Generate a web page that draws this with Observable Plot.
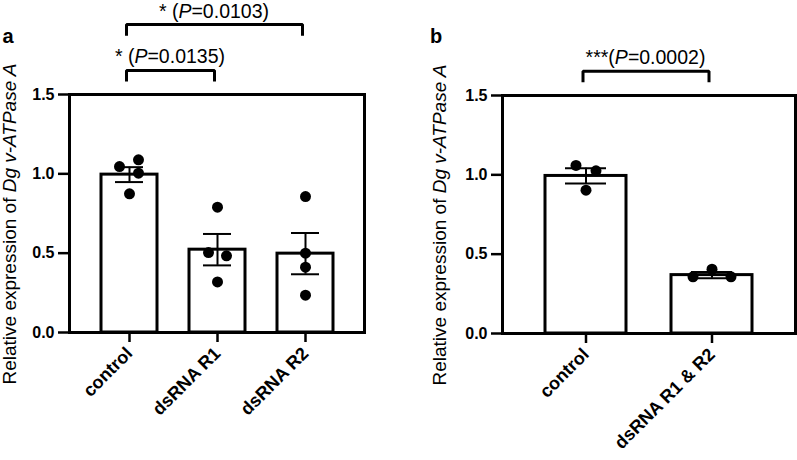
<!DOCTYPE html>
<html><head><meta charset="utf-8">
<script src="https://cdn.jsdelivr.net/npm/d3@7"></script>
<script src="https://cdn.jsdelivr.net/npm/@observablehq/plot@0.6"></script>
<style>
body{margin:0;background:#fff;font-family:"Liberation Sans",Arial,sans-serif;}
#wrap{position:relative;width:797px;height:460px;overflow:hidden;}
#wrap svg{position:absolute;top:0;}
</style></head><body><div id="wrap"></div>
<script>
// ---- Panel a data ----
const groupsA = ["control", "dsRNA R1", "dsRNA R2"];
const meansA = [0.995, 0.522, 0.497];
const semsA = [0.047, 0.099, 0.130];
const valuesA = [[1.046, 1.088, 1.004, 0.874], [0.790, 0.504, 0.483, 0.319], [0.857, 0.500, 0.412, 0.235]];
const jitterA = [[-10, 9, 9, 0], [0, -9, 9, 0], [0, 0, 0, 0]];
const bracketsA = [
  {from: "control", to: "dsRNA R1", low: 1.582, high: 1.651, textY: 1.695, stars: "* ", p: "0.0135"},
  {from: "control", to: "dsRNA R2", low: 1.871, high: 1.941, textY: 1.978, stars: "* ", p: "0.0103"}
];
// ---- Panel b data ----
const groupsB = ["control", "dsRNA R1 & R2"];
const meansB = [0.993, 0.368];
const semsB = [0.048, 0.020];
const valuesB = [[1.059, 1.025, 0.903], [0.357, 0.405, 0.357]];
const jitterB = [[-10, 10, 0], [-19, 0, 19]];
const bracketsB = [
  {from: "control", to: "dsRNA R1 & R2", low: 1.583, high: 1.653, textY: 1.695, stars: "***", p: "0.0002"}
];
const yTicks = [0, 0.5, 1.0, 1.5];
const FONT = "'Liberation Sans', Arial, sans-serif";

function panel(o) {
  const bars = o.groups.map((g, i) => ({g, mean: o.means[i], sem: o.sems[i]}));
  const pts = o.groups.flatMap((g, i) => o.values[i].map((v, j) => ({g, v, j: o.jitter[i][j]})));
  const jGroups = d3.groups(pts, d => d.j);
  const chart = Plot.plot({
    width: o.width, height: 460,
    marginLeft: o.ml, marginRight: o.mr, marginTop: o.mt, marginBottom: o.mb,
    style: {fontFamily: FONT, color: "black", background: "transparent", overflow: "visible"},
    x: {type: "band", domain: o.groups, paddingInner: o.pi, paddingOuter: o.po},
    y: {domain: [0, 1.5]},
    marks: [
      Plot.barY(bars, {x: "g", y: "mean", fill: "white", stroke: "black", strokeWidth: 3}),
      Plot.ruleX(bars, {x: "g", y1: d => d.mean - d.sem, y2: d => d.mean + d.sem, stroke: "black", strokeWidth: 2}),
      Plot.tickY(bars, {x: "g", y: d => d.mean + d.sem, stroke: "black", strokeWidth: 2, insetLeft: o.cap, insetRight: o.cap}),
      Plot.tickY(bars, {x: "g", y: d => d.mean - d.sem, stroke: "black", strokeWidth: 2, insetLeft: o.cap, insetRight: o.cap}),
      ...jGroups.map(([j, arr]) => Plot.dot(arr, {x: "g", y: "v", r: 5.5, fill: "black", stroke: "none", dx: j})),
      ...o.brackets.map(b => Plot.line(
        [{g: b.from, y: b.low}, {g: b.from, y: b.high}, {g: b.to, y: b.high}, {g: b.to, y: b.low}],
        {x: "g", y: "y", stroke: "black", strokeWidth: 3, strokeLinejoin: "miter", strokeLinecap: "butt", dx: -3})),
      Plot.frame({stroke: "black", strokeWidth: 3}),
      Plot.axisY({ticks: yTicks, tickFormat: d3.format(".1f"), tickSize: 11, tickPadding: 4, stroke: "black", strokeWidth: 2.5, fontSize: 16, fontWeight: "bold", label: null}),
      Plot.axisX({tickRotate: -45, tickSize: 10, tickPadding: 8, stroke: "black", strokeWidth: 2.5, fontSize: 18, fontWeight: "bold", label: null})
    ]
  });
  const svg = d3.select(chart);
  const xs = chart.scale("x"), ys = chart.scale("y");
  const cx = g => xs.apply(g) + xs.bandwidth / 2;
  o.brackets.forEach(b => {
    const t = svg.append("text")
      .attr("x", (cx(b.from) + cx(b.to)) / 2 - 3)
      .attr("y", ys.apply(b.textY))
      .attr("text-anchor", "middle")
      .style("font-family", FONT).style("font-size", "19.5px").attr("fill", "black");
    t.append("tspan").text(b.stars + "(");
    t.append("tspan").style("font-style", "italic").text("P");
    t.append("tspan").text("=" + b.p + ")");
  });
  const lab = svg.append("text")
    .attr("transform", `translate(${o.labelX},${(ys.apply(0) + ys.apply(1.5)) / 2 + 11}) rotate(-90)`)
    .attr("text-anchor", "middle")
    .style("font-family", FONT).style("font-size", "19px").attr("fill", "black");
  lab.append("tspan").text("Relative expression of ");
  lab.append("tspan").style("font-style", "italic").text("Dg v-ATPase A");
  svg.append("text").attr("x", o.letterX).attr("y", 43)
    .style("font-family", FONT).style("font-size", "20px").style("font-weight", "bold").attr("fill", "black")
    .text(o.letter);
  chart.style.left = o.left + "px";
  return chart;
}

const wrap = document.getElementById("wrap");
wrap.appendChild(panel({
  groups: groupsA, means: meansA, sems: semsA, values: valuesA, jitter: jitterA, brackets: bracketsA,
  width: 398, left: 0, ml: 69, mr: 34, mt: 94, mb: 128, pi: 0.367, po: 0.35, cap: 14,
  labelX: 16, letter: "a", letterX: 8
}));
wrap.appendChild(panel({
  groups: groupsB, means: meansB, sems: semsB, values: valuesB, jitter: jitterB, brackets: bracketsB,
  width: 399, left: 398, ml: 104, mr: 2, mt: 95, mb: 127, pi: 0.356, po: 0.336, cap: 20,
  labelX: 48, letter: "b", letterX: 38
}));
</script>
</body></html>
